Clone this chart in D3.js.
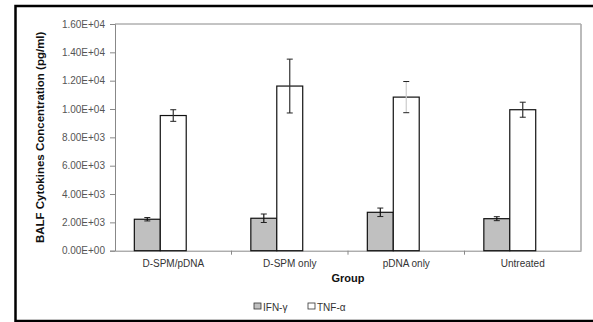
<!DOCTYPE html>
<html>
<head>
<meta charset="utf-8">
<script src="https://cdn.jsdelivr.net/npm/d3@7"></script>
<style>
  body { margin: 0; background: #fff; }
  svg { display: block; font-family: "Liberation Sans", Arial, sans-serif; }
</style>
</head>
<body>
<div id="chart"></div>
<script>
var groups = ['D-SPM/pDNA', 'D-SPM only', 'pDNA only', 'Untreated'];
var seriesNames = ['IFN-\u03b3', 'TNF-\u03b1'];
var ifnValues = [2220, 2290, 2710, 2260];
var ifnErrors = [120, 300, 300, 140];
var tnfValues = [9540, 11620, 10840, 9950];
var tnfErrors = [410, 1900, 1100, 530];
var yTicks = [0, 2000, 4000, 6000, 8000, 10000, 12000, 14000, 16000];

var width = 593, height = 322;
var margin = {top: 24, right: 12, bottom: 72, left: 115};

var svg = d3.select('#chart').append('svg')
    .attr('width', width)
    .attr('height', height);

// outer frame
svg.append('rect')
    .attr('x', 15.5).attr('y', 6)
    .attr('width', 620).attr('height', 315)
    .attr('fill', 'none')
    .attr('stroke', '#000')
    .attr('stroke-width', 2.5);

var x0 = d3.scaleBand()
    .domain(groups)
    .range([margin.left, width - margin.right]);

// three slots per group like the original spreadsheet; last one stays empty
var x1 = d3.scaleBand()
    .domain(seriesNames.concat(['']))
    .range([0, x0.bandwidth()])
    .paddingOuter(0.745);

var y = d3.scaleLinear()
    .domain([0, 16000])
    .range([height - margin.bottom + 0.7, margin.top]);

var plotTop = margin.top, plotBottom = y(0);
var plotLeft = margin.left, plotRight = width - margin.right;

// plot area border (top and right)
svg.append('line')
    .attr('x1', plotLeft).attr('x2', plotRight)
    .attr('y1', plotTop).attr('y2', plotTop)
    .attr('stroke', '#888').attr('stroke-width', 1);
svg.append('line')
    .attr('x1', plotRight).attr('x2', plotRight)
    .attr('y1', plotTop).attr('y2', plotBottom)
    .attr('stroke', '#aaa').attr('stroke-width', 1.6);

// y axis
var yAxis = svg.append('g')
    .attr('transform', 'translate(' + plotLeft + ',0)')
    .call(d3.axisLeft(y).tickValues(yTicks).tickSize(5).tickPadding(5)
      .tickFormat(function(d) {
        var s = d.toExponential(2).toUpperCase();
        return s.replace(/E\+(\d)$/, 'E+0$1');
      }));
yAxis.select('.domain').attr('stroke', '#888');
yAxis.selectAll('.tick line').attr('stroke', '#888');
yAxis.selectAll('.tick text')
    .attr('fill', '#555')
    .style('font-size', '10px');

// x axis
var xAxis = svg.append('g')
    .attr('transform', 'translate(0,' + plotBottom + ')')
    .call(d3.axisBottom(x0).tickSize(0).tickPadding(9));
xAxis.select('.domain').attr('stroke', '#888');
xAxis.selectAll('.tick text')
    .attr('fill', '#333')
    .style('font-size', '10px');
xAxis.selectAll('.sep')
    .data(groups.slice(1))
    .enter().append('line')
    .attr('class', 'sep')
    .attr('x1', function(d) { return x0(d); })
    .attr('x2', function(d) { return x0(d); })
    .attr('y1', 0).attr('y2', 4)
    .attr('stroke', '#888');

// bars
var rows = groups.map(function(g, i) {
  return [
    {group: g, key: seriesNames[0], value: ifnValues[i], err: ifnErrors[i], fill: '#c0c0c0', errColor: '#111'},
    {group: g, key: seriesNames[1], value: tnfValues[i], err: tnfErrors[i], fill: '#fff',
     errColor: g === 'pDNA only' ? '#ccc' : '#333'}
  ];
});

var group = svg.selectAll('.grp')
    .data(rows)
    .enter().append('g')
    .attr('class', 'grp')
    .attr('transform', function(d) { return 'translate(' + x0(d[0].group) + ',0)'; });

group.selectAll('rect')
    .data(function(d) { return d; })
    .enter().append('rect')
    .attr('x', function(d) { return x1(d.key); })
    .attr('y', function(d) { return y(d.value); })
    .attr('width', x1.bandwidth())
    .attr('height', function(d) { return y(0) - y(d.value); })
    .attr('fill', function(d) { return d.fill; })
    .attr('stroke', '#111')
    .attr('stroke-width', 1.2);

// error bars
var err = group.selectAll('.err')
    .data(function(d) { return d; })
    .enter().append('g')
    .attr('class', 'err');

err.append('line')
    .attr('x1', function(d) { return x1(d.key) + x1.bandwidth() / 2; })
    .attr('x2', function(d) { return x1(d.key) + x1.bandwidth() / 2; })
    .attr('y1', function(d) { return y(d.value - d.err); })
    .attr('y2', function(d) { return y(d.value + d.err); })
    .attr('stroke', function(d) { return d.errColor; })
    .attr('stroke-width', 1.2);

err.selectAll('.cap')
    .data(function(d) { return [d.value - d.err, d.value + d.err].map(function(v) { return {v: v, d: d}; }); })
    .enter().append('line')
    .attr('class', 'cap')
    .attr('x1', function(c) { return x1(c.d.key) + x1.bandwidth() / 2 - 3; })
    .attr('x2', function(c) { return x1(c.d.key) + x1.bandwidth() / 2 + 3; })
    .attr('y1', function(c) { return y(c.v); })
    .attr('y2', function(c) { return y(c.v); })
    .attr('stroke', '#222')
    .attr('stroke-width', 1);

// axis titles
svg.append('text')
    .attr('transform', 'translate(44,' + ((plotTop + plotBottom) / 2) + ') rotate(-90)')
    .attr('text-anchor', 'middle')
    .style('font-size', '11.5px')
    .style('font-weight', 'bold')
    .attr('fill', '#111')
    .text('BALF Cytokines Concentration (pg/ml)');

svg.append('text')
    .attr('x', (plotLeft + plotRight) / 2)
    .attr('y', 282)
    .attr('text-anchor', 'middle')
    .style('font-size', '11px')
    .style('font-weight', 'bold')
    .attr('fill', '#111')
    .text('Group');

// legend
var legend = svg.selectAll('.leg')
    .data(rows[0])
    .enter().append('g')
    .attr('class', 'leg')
    .attr('transform', function(d, i) { return 'translate(' + (254 + i * 54) + ',303)'; });

legend.append('rect')
    .attr('width', 7).attr('height', 6)
    .attr('fill', function(d) { return d.fill; })
    .attr('stroke', '#333')
    .attr('stroke-width', 0.8);

legend.append('text')
    .attr('x', 9).attr('y', 7.5)
    .style('font-size', '10px')
    .attr('fill', '#333')
    .text(function(d) { return d.key; });
</script>
</body>
</html>
